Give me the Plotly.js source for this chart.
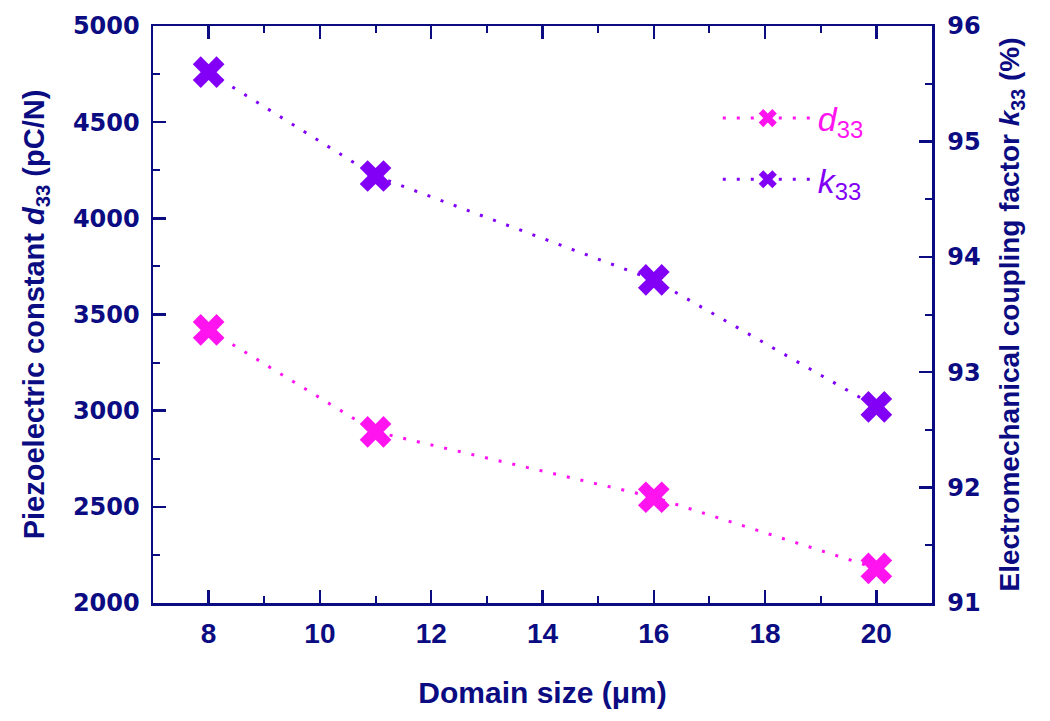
<!DOCTYPE html>
<html>
<head>
<meta charset="utf-8">
<script src="https://cdn.plot.ly/plotly-3.0.1.min.js"></script>
<style>html,body{margin:0;padding:0;background:#fff;}#chart{width:1050px;height:721px;}</style>
</head>
<body>
<div id="chart"></div>
<script>
const domainSize = [8, 11, 16, 20];
const d33 = [3420, 2890, 2550, 2180];
const k33 = [95.6, 94.7, 93.8, 92.7];
const xTicks = [8, 10, 12, 14, 16, 18, 20];
const yTicks = [2000, 2500, 3000, 3500, 4000, 4500, 5000];
const y2Ticks = [91, 92, 93, 94, 95, 96];

const navy = '#0b0b82';
const magenta = '#ff14f0';
const purple = '#8200f5';
const font = 'Liberation Sans, Arial, sans-serif';
const narrow = 'Liberation Sans Narrow, Liberation Sans, Arial, sans-serif';
const wide = 'DejaVu Sans, Liberation Sans, Arial, sans-serif';

const traces = [
  {
    x: domainSize, y: d33, type: 'scatter', mode: 'lines+markers',
    name: '<span style="color:' + magenta + '"><i>d</i><sub>33</sub></span>',
    legendgroup: 'a',
    line: {color: magenta, width: 3, dash: '3px,11px'},
    marker: {symbol: 'x', size: 28, color: magenta, line: {width: 0}},
    yaxis: 'y'
  },
  {
    x: domainSize, y: k33, type: 'scatter', mode: 'lines+markers',
    name: '<span style="color:' + purple + '"><i>k</i><sub>33</sub></span>',
    legendgroup: 'b',
    line: {color: purple, width: 3, dash: '3px,11px'},
    marker: {symbol: 'x', size: 28, color: purple, line: {width: 0}},
    yaxis: 'y2'
  }
];

const axisCommon = {
  showgrid: false, zeroline: false, showline: true, linecolor: navy, linewidth: 2.5,
  ticks: 'inside', ticklen: 13, tickwidth: 2.5, tickcolor: navy,
  tickfont: {family: wide, size: 24, color: navy, weight: 'bold'}
};

const layout = {
  width: 1050, height: 721,
  margin: {l: 153, r: 118, t: 26, b: 118},
  paper_bgcolor: '#fff', plot_bgcolor: '#fff',
  showlegend: true,
  legend: {x: 0.725, y: 0.89, xanchor: 'left', yanchor: 'top', bgcolor: 'rgba(0,0,0,0)',
           font: {family: font, size: 34}, tracegroupgap: 14, itemwidth: 90},
  xaxis: Object.assign({}, axisCommon, {
    range: [7, 21], tickvals: xTicks, ticktext: xTicks.map(String), mirror: 'ticks',
    minor: {dtick: 1, ticks: 'inside', ticklen: 7, tickwidth: 2, tickcolor: navy},
    tickfont: {family: narrow, size: 28, color: navy, weight: 'bold'},
    ticklabelstandoff: 4,
    title: {text: 'Domain size (μm)', standoff: 34,
            font: {family: narrow, size: 30, color: navy, weight: 'bold'}}
  }),
  yaxis: Object.assign({}, axisCommon, {
    range: [2000, 5000], tickvals: yTicks, ticktext: yTicks.map(String),
    minor: {dtick: 250, ticks: 'inside', ticklen: 7, tickwidth: 2, tickcolor: navy},
    ticklabelstandoff: 6,
    title: {text: 'Piezoelectric constant <i>d</i><sub>33</sub> (pC/N)', standoff: 20,
            font: {family: font, size: 29, color: navy, weight: 'bold'}}
  }),
  yaxis2: Object.assign({}, axisCommon, {
    overlaying: 'y', side: 'right', range: [91, 96], tickvals: y2Ticks, ticktext: y2Ticks.map(String),
    minor: {dtick: 0.5, ticks: 'inside', ticklen: 7, tickwidth: 2, tickcolor: navy},
    ticklabelstandoff: 8,
    title: {text: 'Electromechanical coupling factor <i>k</i><sub>33</sub> (%)', standoff: 20,
            font: {family: font, size: 28, color: navy, weight: 'bold'}}
  })
};

Plotly.newPlot('chart', traces, layout, {displayModeBar: false, staticPlot: true});
</script>
</body>
</html>
